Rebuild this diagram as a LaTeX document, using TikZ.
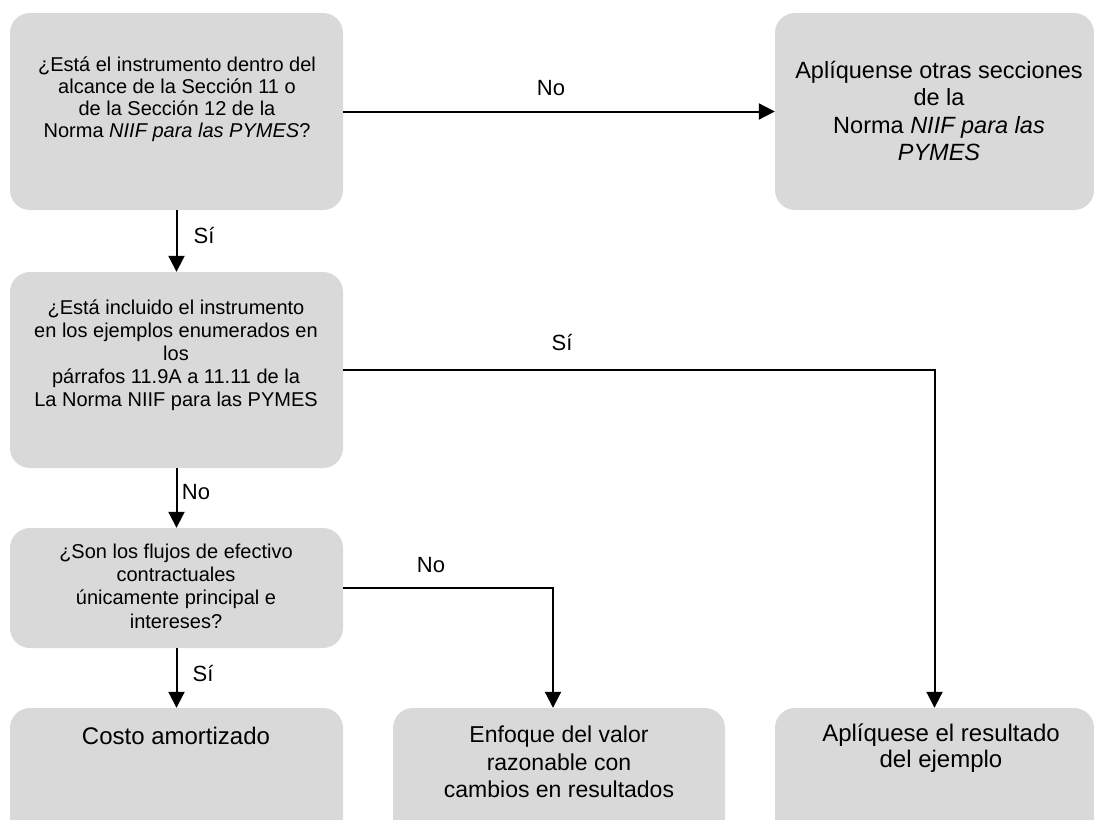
\documentclass[tikz,border=0pt]{standalone}
\usepackage{fontspec}
\setmainfont{Liberation Sans}
\usetikzlibrary{arrows.meta}
\definecolor{boxgray}{RGB}{217,217,217}
\begin{document}
\begin{tikzpicture}[x=1pt,y=-1pt,
  box/.style={fill=boxgray, draw=none, rounded corners=20pt, inner sep=0pt, minimum width=333pt},
  txt/.style={align=center, inner sep=0pt, text=black},
  lbl/.style={inner sep=0pt, font=\fontsize{22}{24}\selectfont},
  arr/.style={line width=2pt, -{Triangle[width=16pt,length=16pt]}},
  seg/.style={line width=2pt}
]
\useasboundingbox (0,0) rectangle (1094,819);
\clip (0,0) rectangle (1094,819);
% boxes
\node[box, minimum height=197pt] (A) at (176.5,111.5) {};
\node[box, minimum width=319pt, minimum height=197pt] (B) at (934.5,111.5) {};
\node[box, minimum height=196pt] (C) at (176.5,370) {};
\node[box, minimum height=120pt] (D) at (176.5,588) {};
\node[box, minimum height=130pt] (E) at (176.5,773) {};
\node[box, minimum width=332pt, minimum height=130pt] (F) at (559,773) {};
\node[box, minimum width=319pt, minimum height=130pt] (G) at (934.5,773) {};
% texts
\node[txt, font=\fontsize{20}{22}\selectfont] (tA) at (177,99)
  {¿Está el instrumento dentro del\\alcance de la Sección 11 o\\de la Sección 12 de la\\Norma \textit{NIIF para las PYMES}?};
\node[txt, font=\fontsize{23.5}{27.5}\selectfont] (tB) at (939,111)
  {Aplíquense otras secciones\\de la\\Norma \textit{NIIF para las}\\\textit{PYMES}};
\node[txt, font=\fontsize{20}{23}\selectfont] (tC) at (176,355)
  {¿Está incluido el instrumento\\en los ejemplos enumerados en\\los\\párrafos 11.9A a 11.11 de la\\La Norma NIIF para las PYMES};
\node[txt, font=\fontsize{20}{23.3}\selectfont] (tD) at (176,586)
  {¿Son los flujos de efectivo\\contractuales\\únicamente principal e\\intereses?};
\node[txt, font=\fontsize{24}{27}\selectfont] (tE) at (176,736) {Costo amortizado};
\node[txt, font=\fontsize{23}{27.5}\selectfont] (tF) at (559,762)
  {Enfoque del valor\\razonable con\\cambios en resultados};
\node[txt, font=\fontsize{24}{26}\selectfont] (tG) at (941,748)
  {Aplíquese el resultado\\del ejemplo};
% connectors
\draw[arr] (A.east) -- (B.west);
\draw[arr] (A.south) -- (C.north);
\draw[arr] (C.south) -- (D.north);
\draw[arr] (D.south) -- (E.north);
\draw[arr] (C.east) -| (G.north);
\draw[arr] (D.east) -| ([xshift=-6pt]F.north);
% labels
\node[lbl] (l1) at (551,88) {No};
\node[lbl] (l2) at (204,236) {Sí};
\node[lbl] (l3) at (562,343) {Sí};
\node[lbl] (l4) at (196,492) {No};
\node[lbl] (l5) at (431,565) {No};
\node[lbl] (l6) at (203,673) {Sí};
\end{tikzpicture}
\end{document}
